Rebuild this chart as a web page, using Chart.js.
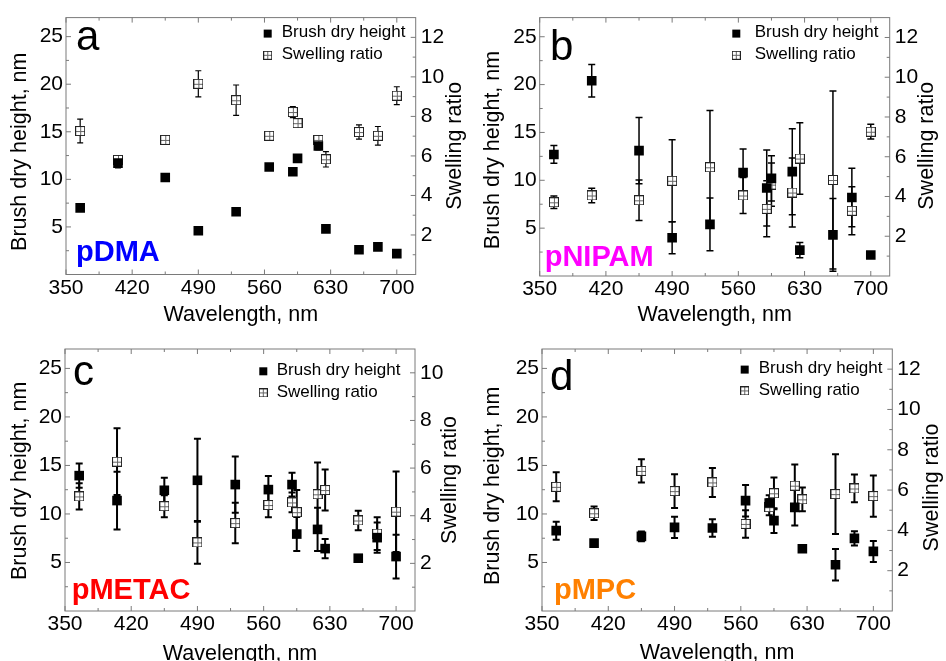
<!DOCTYPE html>
<html>
<head>
<meta charset="utf-8">
<script src="https://cdn.jsdelivr.net/npm/chart.js@4.4.1/dist/chart.umd.min.js"></script>
<style>
body { margin: 0; background: #fff; }
#wrap { position: relative; width: 946px; height: 661px; overflow: hidden; background: #fff; }
#wrap canvas { position: absolute; }
</style>
</head>
<body>
<div id="wrap">
<canvas id="pa" width="473" height="330" style="left:0;top:0"></canvas>
<canvas id="pb" width="473" height="330" style="left:473px;top:0"></canvas>
<canvas id="pc" width="473" height="345" style="left:0;top:330px"></canvas>
<canvas id="pd" width="473" height="345" style="left:473px;top:330px"></canvas>
</div>
<script>
// LED wavelengths, nm
var WAVELENGTH = [365, 405, 455, 490, 530, 565, 590, 595, 617, 625, 660, 680, 700];

// a - pDMA
var DMA_HEIGHT = [7.0, 11.7, 10.2, 4.6, 6.6, 11.3, 10.8, 12.2, 13.5, 4.8, 2.6, 2.9, 2.2];
var DMA_HEIGHT_ERR = [0.3, 0.5, 0.3, 0.3, 0.3, 0.3, 0.2, 0.3, 0.4, 0.3, 0.2, 0.2, 0.2];
var DMA_SWELL = [7.26, 5.8, 6.81, 9.65, 8.82, 7.02, 8.22, 7.66, 6.81, 5.83, 7.21, 7.02, 9.05];
var DMA_SWELL_ERR = [0.6, 0.1, 0.12, 0.66, 0.77, 0.15, 0.28, 0.2, 0.2, 0.39, 0.36, 0.47, 0.45];

// b - pNIPAM
var NIPAM_HEIGHT = [12.7, 20.4, 13.1, 4.0, 5.4, 10.8, 9.2, 10.2, 10.9, 2.7, 4.3, 8.2, 2.2];
var NIPAM_HEIGHT_ERR = [0.93, 1.7, 3.45, 1.68, 2.75, 2.48, 3.97, 2.37, 4.49, 0.8, 3.8, 3.06, 0.2];
var NIPAM_SWELL = [3.71, 4.05, 3.81, 4.79, 5.47, 4.05, 3.38, 4.6, 4.2, 5.91, 4.83, 3.28, 7.26];
var NIPAM_SWELL_ERR = [0.32, 0.37, 1.02, 2.06, 2.86, 0.9, 1.41, 1.09, 1.74, 1.8, 4.48, 1.21, 0.37];

// c - pMETAC
var METAC_HEIGHT = [13.95, 11.38, 12.44, 13.47, 13.03, 12.51, 13.03, 7.93, 8.41, 6.43, 5.44, 7.56, 5.61];
var METAC_HEIGHT_ERR = [1.25, 2.97, 1.3, 4.27, 2.9, 1.4, 1.23, 1.75, 2.23, 1.0, 0.3, 1.55, 2.26];
var METAC_SWELL = [4.81, 6.27, 4.4, 2.88, 3.69, 4.45, 4.56, 4.15, 4.9, 5.08, 3.8, 3.25, 4.17];
var METAC_SWELL_ERR = [0.55, 1.4, 0.46, 0.9, 0.85, 0.51, 0.41, 0.93, 1.33, 0.86, 0.41, 0.69, 1.69];

// d - pMPC
var MPC_HEIGHT = [8.28, 7.0, 7.69, 8.62, 8.55, 11.37, 11.13, 9.31, 10.68, 6.42, 4.77, 7.48, 6.14];
var MPC_HEIGHT_ERR = [0.93, 0.2, 0.5, 1.1, 0.9, 1.62, 0.8, 1.27, 1.86, 0.3, 1.63, 0.74, 1.08];
var MPC_SWELL = [6.16, 4.85, 6.95, 5.95, 6.38, 4.32, 5.15, 5.84, 6.22, 5.54, 5.8, 6.08, 5.7];
var MPC_SWELL_ERR = [0.72, 0.33, 0.58, 0.84, 0.72, 0.68, 0.4, 0.79, 1.05, 0.59, 1.98, 0.69, 1.02];

// ticks
var X_MAJOR = [350, 420, 490, 560, 630, 700];
var X_MINOR = [385, 455, 525, 595, 665];
var H_MAJOR = [5, 10, 15, 20, 25];
var H_MINOR = [2.5, 7.5, 12.5, 17.5, 22.5];
var SR_MAJOR = [2, 4, 6, 8, 10, 12];
var SR_MINOR = [1, 3, 5, 7, 9, 11];
var SR_MAJOR_C = [2, 4, 6, 8, 10];
var SR_MINOR_C = [1, 3, 5, 7, 9];

var FAMILY = "'Liberation Sans', Arial, sans-serif";
var FRAME = '#7a7a7a';

function pairs(xs, ys) {
    return xs.map(function(x, i) { return {x: x, y: ys[i]}; });
}

function sorted(a, b) {
    return a.concat(b).sort(function(p, q) { return p - q; });
}

// open square with a cross, like origin's "square + plus" symbol
function boxMarker(size) {
    var c = document.createElement('canvas');
    c.width = size;
    c.height = size;
    var g = c.getContext('2d');
    g.fillStyle = '#fff';
    g.fillRect(0, 0, size, size);
    g.strokeStyle = '#222';
    g.lineWidth = 1;
    g.strokeRect(0.5, 0.5, size - 1, size - 1);
    var m = Math.floor(size / 2) + 0.5;
    g.strokeStyle = '#666';
    g.beginPath();
    g.moveTo(m, 1); g.lineTo(m, size - 1);
    g.moveTo(1, m); g.lineTo(size - 1, m);
    g.stroke();
    return c;
}
var BOX = boxMarker(10);
var LEG_BOX = boxMarker(9);

function drawErrorBars(chart, p) {
    var ctx = chart.ctx;
    var xs = chart.scales.x;
    ctx.save();
    ctx.strokeStyle = '#000';
    ctx.lineWidth = p.barWidth;
    chart.data.datasets.forEach(function(ds) {
        var ys = chart.scales[ds.yAxisID];
        ds.data.forEach(function(pt, i) {
            var e = ds.errors[i];
            if (!e) return;
            var x = xs.getPixelForValue(pt.x);
            var y1 = ys.getPixelForValue(pt.y - e);
            var y2 = ys.getPixelForValue(pt.y + e);
            ctx.beginPath();
            ctx.moveTo(x, y1); ctx.lineTo(x, y2);
            ctx.moveTo(x - p.cap, y1); ctx.lineTo(x + p.cap, y1);
            ctx.moveTo(x - p.cap, y2); ctx.lineTo(x + p.cap, y2);
            ctx.stroke();
        });
    });
    ctx.restore();
}

// box around the plot and inward ticks
function drawFrame(chart, p) {
    var ctx = chart.ctx, a = chart.chartArea, s = chart.scales;
    ctx.save();
    ctx.strokeStyle = FRAME;
    ctx.lineWidth = 1;
    ctx.strokeRect(a.left, a.top, a.right - a.left, a.bottom - a.top);
    ctx.beginPath();
    sorted(X_MAJOR, X_MINOR).forEach(function(v) {
        var x = s.x.getPixelForValue(v);
        var len = X_MAJOR.indexOf(v) >= 0 ? 5 : 3;
        ctx.moveTo(x, a.bottom); ctx.lineTo(x, a.bottom - len);
        ctx.moveTo(x, a.top); ctx.lineTo(x, a.top + len);
    });
    sorted(H_MAJOR, H_MINOR).forEach(function(v) {
        var y = s.y.getPixelForValue(v);
        var len = H_MAJOR.indexOf(v) >= 0 ? 5 : 3;
        ctx.moveTo(a.left, y); ctx.lineTo(a.left + len, y);
    });
    sorted(p.srMajor, p.srMinor).forEach(function(v) {
        var y = s.y1.getPixelForValue(v);
        var len = p.srMajor.indexOf(v) >= 0 ? 5 : 3;
        ctx.moveTo(a.right, y); ctx.lineTo(a.right - len, y);
    });
    ctx.stroke();
    ctx.restore();
}

// both y titles read bottom to top, so they are drawn here
function vTitle(ctx, text, pos) {
    ctx.save();
    ctx.translate(pos[0], pos[1]);
    ctx.rotate(-Math.PI / 2);
    ctx.textAlign = 'center';
    ctx.textBaseline = 'middle';
    ctx.fillStyle = '#000';
    ctx.font = '21.5px ' + FAMILY;
    ctx.fillText(text, 0, 0);
    ctx.restore();
}

function drawLabels(chart, p) {
    var ctx = chart.ctx;
    vTitle(ctx, 'Brush dry height, nm', p.yTitle);
    vTitle(ctx, 'Swelling ratio', p.y1Title);
    ctx.save();
    ctx.textAlign = 'left';
    ctx.textBaseline = 'alphabetic';
    ctx.fillStyle = '#000';
    ctx.font = '42px ' + FAMILY;
    ctx.fillText(p.letter, p.letterPos[0], p.letterPos[1]);
    ctx.fillStyle = p.color;
    ctx.font = 'bold 29px ' + FAMILY;
    ctx.fillText(p.name, p.namePos[0], p.namePos[1]);
    // legend
    ctx.fillStyle = '#000';
    ctx.font = '17px ' + FAMILY;
    ctx.fillText('Brush dry height', p.legTextX, p.legY[0]);
    ctx.fillText('Swelling ratio', p.legTextX, p.legY[1]);
    ctx.fillRect(p.legMarkX - 4, p.legY[0] - 3.6 - 4, 8, 8);
    ctx.drawImage(LEG_BOX, p.legMarkX - 4.5, p.legY[1] - 3.6 - 4.5);
    ctx.restore();
}

function makePanel(id, p) {
    var canvas = document.getElementById(id);
    var W = canvas.width, H = canvas.height;
    var tickFont = {family: FAMILY, size: 21};
    var titleFont = {family: FAMILY, size: 21.5};
    var noGrid = {display: false, drawTicks: false, tickLength: 0};

    var decor = {
        id: 'decor',
        beforeDatasetsDraw: function(chart) { drawErrorBars(chart, p); },
        afterDraw: function(chart) {
            drawFrame(chart, p);
            drawLabels(chart, p);
        }
    };

    return new Chart(canvas, {
        type: 'scatter',
        data: {
            datasets: [{
                label: 'Brush dry height',
                data: pairs(WAVELENGTH, p.height),
                errors: p.heightErr,
                yAxisID: 'y',
                pointStyle: 'rect',
                pointRadius: 6.8,
                pointBackgroundColor: '#000',
                pointBorderColor: '#000',
                pointBorderWidth: 0
            }, {
                label: 'Swelling ratio',
                data: pairs(WAVELENGTH, p.swell),
                errors: p.swellErr,
                yAxisID: 'y1',
                pointStyle: BOX,
                pointRadius: 5
            }]
        },
        options: {
            responsive: false,
            animation: false,
            devicePixelRatio: 1,
            events: [],
            layout: {padding: {top: p.top, left: 0, right: 0, bottom: 0}},
            plugins: {legend: {display: false}, tooltip: {enabled: false}},
            scales: {
                x: {
                    type: 'linear',
                    min: 350,
                    max: 720,
                    afterBuildTicks: function(s) {
                        s.ticks = sorted(X_MAJOR, X_MINOR).map(function(v) { return {value: v}; });
                    },
                    afterFit: function(s) { s.height = H - p.bottom; },
                    grid: noGrid,
                    border: {display: false},
                    ticks: {
                        autoSkip: false, maxRotation: 0, minRotation: 0, padding: 1,
                        color: '#000', font: tickFont,
                        callback: function(v) { return X_MAJOR.indexOf(v) >= 0 ? String(v) : ''; }
                    },
                    title: {display: true, text: 'Wavelength, nm', color: '#000', font: titleFont,
                        padding: {top: 0, bottom: p.xPad}}
                },
                y: {
                    position: 'left',
                    min: 0,
                    max: 27,
                    afterBuildTicks: function(s) {
                        s.ticks = sorted(H_MAJOR, H_MINOR).map(function(v) { return {value: v}; });
                    },
                    afterFit: function(s) { s.width = p.left; },
                    grid: noGrid,
                    border: {display: false},
                    ticks: {
                        autoSkip: false, padding: 3, color: '#000', font: tickFont,
                        callback: function(v) { return H_MAJOR.indexOf(v) >= 0 ? String(v) : ''; }
                    }
                },
                y1: {
                    position: 'right',
                    min: 0,
                    max: p.srMax,
                    afterBuildTicks: function(s) {
                        s.ticks = sorted(p.srMajor, p.srMinor).map(function(v) { return {value: v}; });
                    },
                    afterFit: function(s) { s.width = W - p.right; },
                    grid: noGrid,
                    border: {display: false},
                    ticks: {
                        autoSkip: false, padding: 5, color: '#000', font: tickFont,
                        callback: function(v) { return p.srMajor.indexOf(v) >= 0 ? String(v) : ''; }
                    }
                }
            }
        },
        plugins: [decor]
    });
}

makePanel('pa', {
    height: DMA_HEIGHT, heightErr: DMA_HEIGHT_ERR, swell: DMA_SWELL, swellErr: DMA_SWELL_ERR,
    left: 66, right: 415.7, top: 15, bottom: 274.5,
    xPad: 2.5, yTitle: [19.7, 151.7], y1Title: [454.7, 145.8],
    srMax: 13, srMajor: SR_MAJOR, srMinor: SR_MINOR,
    barWidth: 1.2, cap: 3,
    letter: 'a', letterPos: [76, 50],
    name: 'pDMA', color: '#0000ff', namePos: [76, 260.8],
    legMarkX: 267.7, legTextX: 281.7, legY: [37.2, 58.9]
});

makePanel('pb', {
    height: NIPAM_HEIGHT, heightErr: NIPAM_HEIGHT_ERR, swell: NIPAM_SWELL, swellErr: NIPAM_SWELL_ERR,
    left: 66.7, right: 416.7, top: 14, bottom: 276,
    xPad: 2.5, yTitle: [20.5, 150], y1Title: [453.7, 145.8],
    srMax: 13, srMajor: SR_MAJOR, srMinor: SR_MINOR,
    barWidth: 1.5, cap: 3.5,
    letter: 'b', letterPos: [77, 60],
    name: 'pNIPAM', color: '#ff00ff', namePos: [71.7, 265.8],
    legMarkX: 263.3, legTextX: 281.7, legY: [37.2, 58.9]
});

makePanel('pc', {
    height: METAC_HEIGHT, heightErr: METAC_HEIGHT_ERR, swell: METAC_SWELL, swellErr: METAC_SWELL_ERR,
    left: 65, right: 415, top: 19, bottom: 281,
    xPad: 7.8, yTitle: [20.5, 150.8], y1Title: [449.7, 150],
    srMax: 11, srMajor: SR_MAJOR_C, srMinor: SR_MINOR_C,
    barWidth: 2, cap: 3.5,
    letter: 'c', letterPos: [73, 55],
    name: 'pMETAC', color: '#ff0000', namePos: [71.7, 269.1],
    legMarkX: 263.3, legTextX: 276.7, legY: [44.9, 66.5]
});

makePanel('pd', {
    height: MPC_HEIGHT, heightErr: MPC_HEIGHT_ERR, swell: MPC_SWELL, swellErr: MPC_SWELL_ERR,
    left: 69, right: 419.3, top: 19, bottom: 281,
    xPad: 9.4, yTitle: [20.5, 155.8], y1Title: [458.7, 157.5],
    srMax: 13, srMajor: SR_MAJOR, srMinor: SR_MINOR,
    barWidth: 2, cap: 3.5,
    letter: 'd', letterPos: [77, 60],
    name: 'pMPC', color: '#ff8000', namePos: [81, 269.1],
    legMarkX: 271.7, legTextX: 285.7, legY: [43.2, 64.5]
});
</script>
</body>
</html>
